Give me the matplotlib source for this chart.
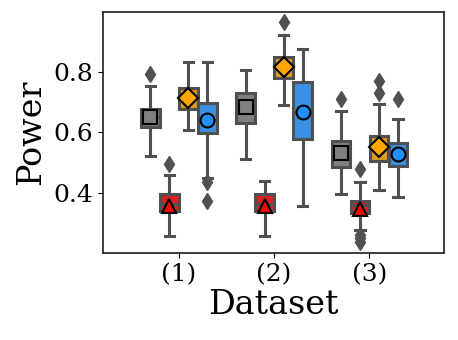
import matplotlib.pyplot as plt
import numpy as np

plt.rcParams["font.family"] = "serif"

datasets = ["(1)", "(2)", "(3)"]
methods = ["gray", "red", "orange", "blue"]

# per-method rows, per-dataset columns
q1 = [
    [0.617, 0.631, 0.486],
    [0.340, 0.340, 0.335],
    [0.678, 0.780, 0.506],
    [0.597, 0.578, 0.489],
]
q3 = [
    [0.678, 0.729, 0.571],
    [0.395, 0.395, 0.372],
    [0.747, 0.849, 0.589],
    [0.696, 0.766, 0.566],
]
medians = [
    [0.650, 0.684, 0.531],
    [0.362, 0.362, 0.361],
    [0.714, 0.817, 0.553],
    [0.642, 0.666, 0.529],
]
means = [
    [0.650, 0.684, 0.531],
    [0.357, 0.357, 0.347],
    [0.714, 0.817, 0.553],
    [0.642, 0.666, 0.529],
]
whis_lo = [
    [0.522, 0.512, 0.395],
    [0.256, 0.256, 0.276],
    [0.608, 0.691, 0.411],
    [0.448, 0.357, 0.387],
]
whis_hi = [
    [0.752, 0.805, 0.672],
    [0.459, 0.439, 0.437],
    [0.833, 0.924, 0.694],
    [0.833, 0.877, 0.644],
]
outliers = [
    [[0.794], [], [0.710]],
    [[0.495], [], [0.479, 0.262, 0.250, 0.238]],
    [[], [0.965], [0.769, 0.732]],
    [[0.437, 0.372], [], [0.710]],
]

box_colors = ["#808080", "#df2020", "#df9a20", "#3a90e3"]
mean_colors = ["#808080", "#ff0000", "#ffa500", "#1e90ff"]
mean_markers = ["s", "^", "D", "o"]
line_color = "#505050"


def main():
    fig, ax = plt.subplots(figsize=(4.58, 3.4), dpi=100)
    fig.subplots_adjust(left=0.224, right=0.969, bottom=0.255, top=0.966)

    n = len(methods)
    width = 0.8 / n
    for i in range(n):
        offset = -0.4 + width * (i + 0.5)
        stats = []
        for j in range(len(datasets)):
            stats.append(
                dict(
                    med=medians[i][j],
                    q1=q1[i][j],
                    q3=q3[i][j],
                    whislo=whis_lo[i][j],
                    whishi=whis_hi[i][j],
                    mean=means[i][j],
                    fliers=outliers[i][j],
                )
            )
        positions = np.arange(len(datasets)) + offset
        ax.bxp(
            stats,
            positions=positions,
            widths=width * 0.98,
            patch_artist=True,
            showmeans=True,
            boxprops=dict(facecolor=box_colors[i], edgecolor=line_color, linewidth=2.2),
            whiskerprops=dict(color=line_color, linewidth=2.2),
            capprops=dict(color=line_color, linewidth=2.2),
            medianprops=dict(color=line_color, linewidth=2.2),
            meanprops=dict(
                marker=mean_markers[i],
                markerfacecolor=mean_colors[i],
                markeredgecolor="black",
                markeredgewidth=1.5,
                markersize=10,
            ),
            flierprops=dict(
                marker="d",
                markerfacecolor=line_color,
                markeredgecolor=line_color,
                markersize=8,
            ),
            manage_ticks=False,
        )

    ax.set_xlim(-0.8, 2.78)
    ax.set_ylim(0.2, 1.0)
    ax.set_xticks(np.arange(len(datasets)))
    ax.set_xticklabels(datasets)
    ax.set_yticks([0.4, 0.6, 0.8])
    ax.tick_params(labelsize=18)
    ax.set_xlabel("Dataset", fontsize=24, labelpad=2)
    ax.set_ylabel("Power", fontsize=24, labelpad=4)
    for s in ax.spines.values():
        s.set_color(".15")
        s.set_linewidth(1.25)

    fig.savefig("out.png", dpi=100)


if __name__ == "__main__":
    main()
